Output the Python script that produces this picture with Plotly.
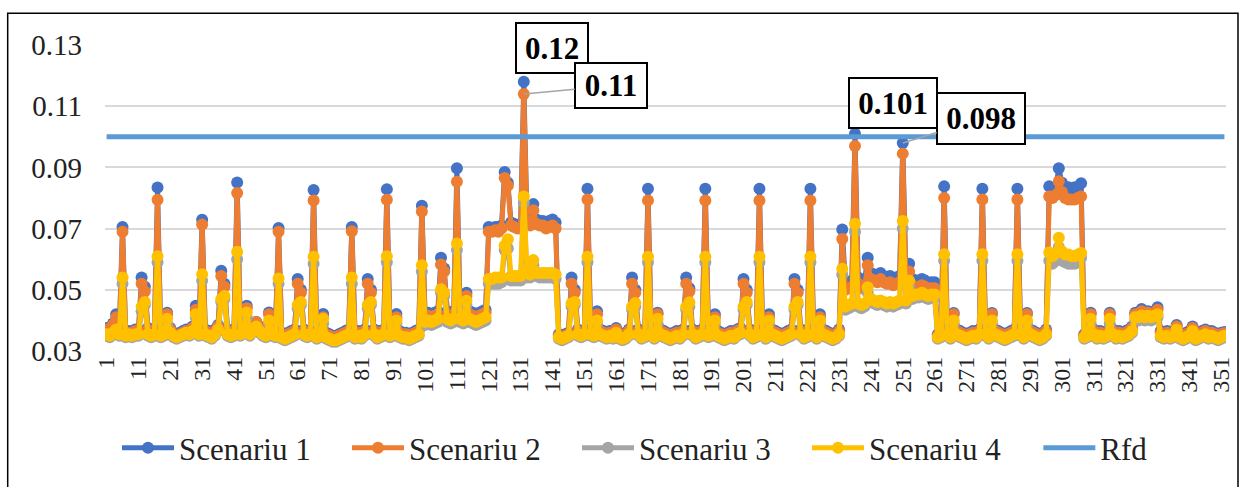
import plotly.graph_objects as go

# Sample index 1..352 along the horizontal axis
days = list(range(1, 353))
tick_vals = [1, 11, 21, 31, 41, 51, 61, 71, 81, 91, 101, 111, 121, 131, 141, 151, 161, 171,
             181, 191, 201, 211, 221, 231, 241, 251, 261, 271, 281, 291, 301, 311, 321, 331, 341, 351]
tick_text = [str(v) for v in tick_vals]
y_ticks = [0.03, 0.05, 0.07, 0.09, 0.11, 0.13]

scenariu_1 = [
    .0375, .036, .039, .042, .037, .0705, .036, .0365, .036, .037,
    .037, .054, .051, .0375, .036, .037, .0834, .036, .0365, .0425,
    .0375, .036, .0355, .036, .0365, .037, .0365, .038, .0448, .037,
    .0729, .037, .0365, .036, .037, .0385, .0562, .052, .037, .0365,
    .037, .0851, .037, .038, .0448, .037, .0385, .0395, .038, .037,
    .0365, .0426, .037, .0365, .0702, .036, .0355, .036, .0365, .037,
    .0535, .050, .037, .036, .0365, .0826, .036, .0365, .0421, .036,
    .0355, .035, .035, .0355, .036, .0365, .037, .0705, .036, .0365,
    .036, .037, .0535, .050, .037, .036, .0365, .037, .0829, .0365,
    .037, .0421, .0365, .036, .036, .0355, .036, .0365, .037, .0775,
    .042, .0425, .042, .0425, .043, .0605, .057, .043, .0425, .043,
    .0897, .043, .0425, .049, .043, .0425, .042, .0425, .043, .0435,
    .0705, .070, .0705, .0705, .071, .0885, .085, .072, .0715, .071,
    .0715, .118, .073, .072, .078, .073, .0725, .0725, .072, .0725,
    .073, .072, .0355, .035, .0355, .036, .054, .050, .037, .036,
    .0365, .083, .037, .036, .043, .037, .0365, .036, .0365, .036,
    .0375, .036, .0355, .036, .037, .054, .050, .037, .036, .0365,
    .083, .037, .036, .0425, .037, .0365, .036, .0355, .036, .0365,
    .036, .037, .054, .0505, .037, .036, .0365, .037, .083, .0365,
    .037, .042, .0365, .036, .0355, .036, .0365, .036, .037, .0375,
    .0535, .050, .037, .036, .0365, .083, .037, .036, .042, .037,
    .0365, .036, .0355, .036, .0365, .037, .0535, .050, .037, .036,
    .0365, .083, .037, .036, .042, .037, .0365, .036, .0355, .036,
    .037, .0697, .052, .0525, .053, .101, .054, .0525, .053, .0605,
    .0555, .055, .0545, .0555, .0545, .054, .0545, .0535, .054, .0545,
    .098, .0545, .0585, .0535, .053, .053, .0535, .053, .052, .0525,
    .0525, .0355, .036, .0838, .037, .036, .0424, .037, .0365, .036,
    .0355, .036, .0365, .036, .037, .083, .037, .036, .0424, .037,
    .0365, .036, .0355, .036, .0365, .037, .083, .037, .036, .0424,
    .037, .0365, .036, .0355, .036, .037, .0838, .083, .0835, .0897,
    .085, .083, .0835, .083, .0835, .0835, .0848, .0355, .0365, .0425,
    .037, .036, .0365, .036, .0365, .0425, .037, .036, .0365, .036,
    .0365, .037, .038, .0425, .0425, .0437, .0425, .043, .0425, .043,
    .0443, .0365, .036, .0365, .036, .0365, .0385, .036, .0355, .036,
    .0365, .038, .0355, .036, .0365, .037, .036, .0365, .036, .0355,
    .036, .0362,
]

scenariu_2 = [
    .037, .0355, .0385, .041, .0365, .069, .0355, .036, .0355, .0365,
    .0365, .052, .0495, .037, .0355, .0365, .0794, .0355, .036, .042,
    .037, .0355, .035, .0355, .036, .0365, .036, .0375, .0435, .0365,
    .0713, .0365, .036, .0355, .0365, .038, .0545, .051, .0365, .036,
    .0365, .0816, .0365, .0375, .044, .0365, .0385, .0395, .0375, .0365,
    .036, .042, .0365, .036, .069, .0355, .035, .0355, .036, .0365,
    .052, .049, .0365, .0355, .036, .0792, .0355, .036, .041, .0355,
    .035, .0345, .0345, .035, .0355, .036, .0365, .0691, .0355, .036,
    .0355, .0365, .052, .049, .0365, .0355, .036, .0365, .0794, .036,
    .0365, .041, .036, .0355, .0355, .035, .0355, .036, .0365, .0756,
    .041, .0415, .041, .0415, .042, .0583, .056, .042, .0415, .042,
    .0853, .042, .0415, .048, .042, .0415, .041, .0415, .042, .0425,
    .069, .069, .0695, .069, .070, .0865, .084, .071, .0705, .070,
    .070, .114, .0715, .071, .076, .0715, .071, .071, .070, .0705,
    .071, .070, .035, .0345, .035, .0355, .052, .049, .0365, .0355,
    .036, .0795, .0365, .0355, .042, .0365, .036, .0355, .036, .0355,
    .037, .0355, .035, .0355, .0365, .052, .049, .0365, .0355, .036,
    .0792, .0365, .0355, .042, .0365, .036, .0355, .035, .0355, .036,
    .0355, .0365, .052, .0495, .0365, .0355, .036, .0365, .0792, .036,
    .0365, .041, .036, .0355, .035, .0355, .036, .0355, .0365, .037,
    .052, .049, .0365, .0355, .036, .0792, .0365, .0355, .041, .0365,
    .036, .0355, .035, .0355, .036, .0365, .052, .049, .0365, .0355,
    .036, .0792, .0365, .0355, .041, .0365, .036, .0355, .035, .0355,
    .0365, .0666, .050, .0505, .051, .097, .052, .0505, .051, .058,
    .0535, .053, .0525, .0535, .0525, .052, .0525, .0515, .052, .0525,
    .0945, .0525, .056, .0515, .051, .051, .0515, .051, .050, .0505,
    .0505, .035, .0355, .080, .0365, .0355, .042, .0365, .036, .0355,
    .035, .0355, .036, .0355, .0365, .0795, .0365, .0355, .042, .0365,
    .036, .0355, .035, .0355, .036, .0365, .0795, .0365, .0355, .042,
    .0365, .036, .0355, .035, .0355, .0365, .0805, .080, .081, .0855,
    .082, .080, .0795, .0795, .0795, .080, .0805, .035, .036, .042,
    .0365, .0355, .036, .0355, .036, .042, .0365, .0355, .036, .0355,
    .036, .0365, .0375, .042, .042, .043, .042, .0425, .042, .0425,
    .0435, .036, .0355, .036, .0355, .036, .038, .0355, .035, .0355,
    .036, .0375, .035, .0355, .036, .0365, .0355, .036, .0355, .035,
    .0355, .0358,
]

scenariu_3 = [
    .035, .0345, .0355, .036, .035, .052, .0345, .035, .0345, .035,
    .035, .043, .045, .035, .0345, .035, .059, .0345, .035, .039,
    .0355, .0345, .034, .0345, .035, .0355, .035, .036, .041, .035,
    .053, .035, .0345, .034, .035, .0365, .046, .047, .035, .0345,
    .035, .060, .035, .036, .041, .035, .0365, .0375, .036, .035,
    .0345, .039, .035, .0345, .052, .034, .0335, .034, .0345, .035,
    .044, .045, .035, .0345, .035, .0585, .034, .0345, .039, .034,
    .0335, .033, .033, .0335, .034, .0345, .035, .052, .034, .0345,
    .034, .035, .044, .045, .035, .034, .0345, .035, .059, .0345,
    .035, .039, .0345, .034, .034, .0335, .034, .0345, .035, .056,
    .0385, .039, .0385, .039, .0395, .049, .048, .0395, .039, .0395,
    .063, .0395, .039, .045, .0395, .039, .0385, .039, .0395, .040,
    .052, .052, .052, .052, .0525, .063, .0635, .053, .053, .053,
    .053, .0785, .054, .054, .058, .0545, .054, .054, .054, .054,
    .054, .0535, .034, .0335, .034, .0345, .0445, .045, .035, .0345,
    .035, .059, .035, .0345, .039, .035, .0345, .034, .0345, .034,
    .0355, .034, .0335, .034, .035, .0435, .0445, .035, .034, .0345,
    .059, .035, .034, .039, .035, .0345, .034, .0335, .034, .0345,
    .034, .035, .0435, .0445, .035, .034, .0345, .035, .059, .0345,
    .035, .039, .0345, .034, .0335, .034, .0345, .034, .035, .0355,
    .0435, .045, .035, .034, .0345, .059, .035, .034, .039, .035,
    .0345, .034, .0335, .034, .0345, .035, .0435, .045, .035, .034,
    .0345, .059, .035, .034, .039, .035, .0345, .034, .0335, .034,
    .035, .055, .0435, .044, .0445, .069, .0445, .044, .0445, .049,
    .046, .0455, .045, .0455, .045, .0445, .045, .0445, .045, .0455,
    .070, .0455, .051, .047, .0475, .0475, .048, .0475, .047, .0475,
    .0475, .034, .0345, .0595, .035, .034, .039, .035, .0345, .034,
    .0335, .034, .0345, .034, .035, .0595, .035, .034, .039, .035,
    .0345, .034, .0335, .034, .0345, .035, .0595, .035, .034, .039,
    .035, .0345, .034, .0335, .034, .035, .0595, .0585, .0595, .064,
    .0595, .059, .0585, .0585, .0585, .059, .0605, .034, .0345, .039,
    .035, .034, .0345, .034, .0345, .039, .035, .034, .0345, .034,
    .0345, .035, .036, .040, .040, .0405, .040, .0405, .040, .0405,
    .041, .0345, .034, .0345, .034, .0345, .0365, .034, .0335, .034,
    .0345, .036, .0335, .034, .0345, .035, .034, .0345, .034, .0335,
    .034, .0345,
]

scenariu_4 = [
    .0355, .035, .036, .037, .0355, .054, .035, .0355, .035, .0355,
    .0355, .0445, .046, .0355, .035, .0355, .061, .035, .0355, .0405,
    .036, .035, .0345, .035, .0355, .036, .0355, .0365, .042, .0355,
    .0551, .0355, .035, .0345, .0355, .037, .047, .048, .0355, .035,
    .0355, .0624, .0355, .0365, .0426, .0355, .037, .038, .0365, .0355,
    .035, .040, .0355, .035, .0537, .0345, .034, .0345, .035, .0355,
    .045, .046, .0355, .035, .0355, .0608, .0345, .035, .0405, .0345,
    .034, .0335, .0335, .034, .0345, .035, .0355, .054, .0345, .035,
    .0345, .0355, .045, .046, .0355, .0345, .035, .0355, .061, .035,
    .0355, .040, .035, .0345, .0345, .034, .0345, .035, .0355, .058,
    .0395, .040, .0395, .040, .0405, .0502, .049, .0405, .040, .0405,
    .0651, .0405, .040, .0464, .0405, .040, .0395, .040, .0405, .041,
    .0535, .0535, .054, .054, .054, .0645, .0665, .0545, .0545, .0545,
    .0545, .0805, .056, .055, .0597, .0555, .0555, .0555, .0555, .0555,
    .0555, .055, .0345, .034, .0345, .035, .0455, .046, .0355, .035,
    .0355, .0608, .0355, .035, .040, .0355, .035, .0345, .035, .0345,
    .036, .0345, .034, .0345, .0355, .0445, .0457, .0355, .0345, .035,
    .0608, .0355, .0345, .0405, .0355, .035, .0345, .034, .0345, .035,
    .0345, .0355, .0445, .0459, .0355, .0345, .035, .0355, .0608, .035,
    .0355, .040, .035, .0345, .034, .0345, .035, .0345, .0355, .036,
    .0445, .046, .0355, .0345, .035, .0608, .0355, .0345, .040, .0355,
    .035, .0345, .034, .0345, .035, .0355, .0445, .046, .0355, .0345,
    .035, .0608, .0355, .0345, .040, .0355, .035, .0345, .034, .0345,
    .0355, .0569, .0445, .045, .0455, .0716, .0455, .045, .0455, .0508,
    .047, .0465, .046, .0465, .046, .0455, .046, .0455, .046, .0465,
    .0725, .0465, .053, .048, .0485, .0485, .049, .0485, .048, .0485,
    .0485, .0345, .035, .0616, .0355, .0345, .040, .0355, .035, .0345,
    .034, .0345, .035, .0345, .0355, .0616, .0355, .0345, .040, .0355,
    .035, .0345, .034, .0345, .035, .0355, .0616, .0355, .0345, .040,
    .0355, .035, .0345, .034, .0345, .0355, .0622, .061, .062, .067,
    .0625, .0615, .0615, .061, .061, .0615, .062, .0345, .035, .0405,
    .0355, .0345, .035, .0345, .035, .0405, .0355, .0345, .035, .0345,
    .035, .0355, .0365, .041, .041, .0416, .041, .0415, .041, .0415,
    .042, .035, .0345, .035, .0345, .035, .037, .0345, .034, .0345,
    .035, .0365, .034, .0345, .035, .0355, .0345, .035, .0345, .034,
    .0345, .035,
]

rfd = [0.1] * len(days)

for s in (scenariu_1, scenariu_2, scenariu_3, scenariu_4):
    assert len(s) == len(days), len(s)

series = [
    ("Scenariu 1", scenariu_1, "#4472C4"),
    ("Scenariu 2", scenariu_2, "#ED7D31"),
    ("Scenariu 3", scenariu_3, "#A5A5A5"),
    ("Scenariu 4", scenariu_4, "#FFC000"),
]

FONT = "'Liberation Serif', 'Times New Roman', 'DejaVu Serif', serif"

fig = go.Figure()
for name, vals, color in series:
    fig.add_trace(go.Scatter(
        x=days, y=vals, name=name, mode="lines+markers",
        line=dict(color=color, width=5),
        marker=dict(color=color, size=12),
        legend="legend",
    ))
fig.add_trace(go.Scatter(
    x=days, y=rfd, name="Rfd", mode="lines",
    line=dict(color="#5B9BD5", width=5),
    legend="legend2",
))

# value callouts for the highest points
i132, i236, i251 = 131, 235, 250
box = dict(font=dict(family=FONT, size=31, color="black"), bgcolor="white",
           bordercolor="black", borderwidth=2, borderpad=3)
fig.add_annotation(x=days[i132], y=scenariu_1[i132], text="<b>%.2f</b>" % scenariu_1[i132],
                   showarrow=False, xshift=28, yshift=34, width=64, height=42, **box)
fig.add_annotation(x=days[i132], y=scenariu_2[i132], text="<b>%.2f</b>" % scenariu_2[i132],
                   showarrow=True, ax=87, ay=-8, arrowhead=0, arrowwidth=1.5,
                   arrowcolor="#A5A5A5", standoff=0, width=64, height=37, **box)
fig.add_annotation(x=days[i236], y=scenariu_1[i236], text="<b>%.3f</b>" % scenariu_1[i236],
                   showarrow=False, xshift=38, yshift=31, width=80, height=42, **box)
fig.add_annotation(x=days[i251], y=scenariu_1[i251], text="<b>%.3f</b>" % scenariu_1[i251],
                   showarrow=True, ax=78, ay=-24, arrowhead=0, arrowwidth=1.5,
                   arrowcolor="#A5A5A5", standoff=0, width=80, height=43, **box)

# outer frame
fig.add_shape(type="rect", xref="paper", yref="paper",
              x0=-0.0868, x1=1.0107, y0=-0.45, y1=1.1036,
              line=dict(color="black", width=1.5), fillcolor="rgba(0,0,0,0)", layer="above")

legend_font = dict(family=FONT, size=31, color="#222")
fig.update_layout(
    width=1246, height=487,
    margin=dict(l=105, r=18, t=45, b=133),
    paper_bgcolor="white", plot_bgcolor="white",
    font=dict(family=FONT, color="black"),
    showlegend=True,
    legend=dict(orientation="h", x=0.0107, xanchor="left", y=-0.317, yanchor="middle",
                font=legend_font, itemwidth=52,
                entrywidth=163, entrywidthmode="pixels",
                traceorder="normal", bgcolor="rgba(0,0,0,0)"),
    legend2=dict(orientation="h", x=0.8326, xanchor="left", y=-0.317, yanchor="middle",
                 font=legend_font, itemwidth=52, bgcolor="rgba(0,0,0,0)"),
    xaxis=dict(range=[0.5, 352.5], tickmode="array", tickvals=tick_vals, ticktext=tick_text,
               tickangle=-90, tickfont=dict(family=FONT, size=24, color="#222"),
               showgrid=False, zeroline=False, showline=False, ticks=""),
    yaxis=dict(range=[0.03, 0.13], tickmode="array", tickvals=y_ticks,
               ticktext=["%.2f" % v for v in y_ticks],
               tickfont=dict(family=FONT, size=29, color="#222"),
               showgrid=True, gridcolor="#D9D9D9", gridwidth=1.5,
               zeroline=False, showline=False, ticks="", ticklabelstandoff=22),
)

fig.write_html("out.html")
